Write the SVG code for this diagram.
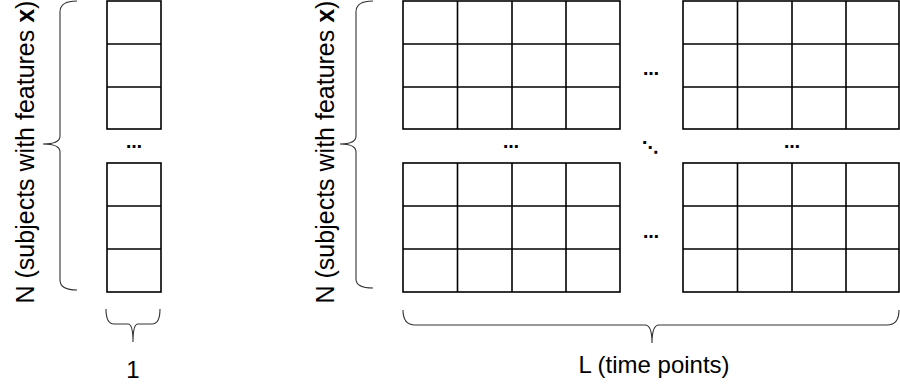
<svg xmlns="http://www.w3.org/2000/svg" width="900" height="391" viewBox="0 0 900 391">
<defs>
<style>
.grid{fill:none;stroke:#000;stroke-width:1.6}
.brace{fill:none;stroke:#333;stroke-width:1.1}
.lbl{font-family:"Liberation Sans",Arial,sans-serif;font-size:24px;fill:#000}
.vl{font-family:"Liberation Sans",Arial,sans-serif;font-size:25px;fill:#000}
.dots{font-family:"DejaVu Sans","Liberation Sans",sans-serif;font-size:16px;font-weight:bold;fill:#000;text-anchor:middle}
</style>
</defs>
<rect width="900" height="391" fill="#fff"/>
<g id="left-column">
<g id="col-top" class="grid">
<rect x="107" y="1" width="54" height="128"/>
<line x1="107" y1="44" x2="161" y2="44"/>
<line x1="107" y1="87" x2="161" y2="87"/>
</g>
<text class="dots" x="134" y="148">…</text>
<g id="col-bottom" class="grid">
<rect x="107" y="163" width="54" height="129"/>
<line x1="107" y1="206" x2="161" y2="206"/>
<line x1="107" y1="249" x2="161" y2="249"/>
</g>
</g>
<g id="matrix-tl" class="grid">
<rect x="403" y="1" width="217" height="128"/>
<line x1="403" y1="44" x2="620" y2="44"/>
<line x1="403" y1="87" x2="620" y2="87"/>
<line x1="457.5" y1="1" x2="457.5" y2="129"/>
<line x1="512" y1="1" x2="512" y2="129"/>
<line x1="566" y1="1" x2="566" y2="129"/>
</g>
<g id="matrix-tr" class="grid">
<rect x="683" y="1" width="216" height="128"/>
<line x1="683" y1="44" x2="899" y2="44"/>
<line x1="683" y1="87" x2="899" y2="87"/>
<line x1="737.5" y1="1" x2="737.5" y2="129"/>
<line x1="792" y1="1" x2="792" y2="129"/>
<line x1="846" y1="1" x2="846" y2="129"/>
</g>
<g id="matrix-bl" class="grid">
<rect x="403" y="163" width="217" height="129"/>
<line x1="403" y1="206" x2="620" y2="206"/>
<line x1="403" y1="249" x2="620" y2="249"/>
<line x1="457.5" y1="163" x2="457.5" y2="292"/>
<line x1="512" y1="163" x2="512" y2="292"/>
<line x1="566" y1="163" x2="566" y2="292"/>
</g>
<g id="matrix-br" class="grid">
<rect x="683" y="163" width="216" height="129"/>
<line x1="683" y1="206" x2="899" y2="206"/>
<line x1="683" y1="249" x2="899" y2="249"/>
<line x1="737.5" y1="163" x2="737.5" y2="292"/>
<line x1="792" y1="163" x2="792" y2="292"/>
<line x1="846" y1="163" x2="846" y2="292"/>
</g>
<g id="ellipses">
<text class="dots" x="651" y="75">…</text>
<text class="dots" x="511" y="148">…</text>
<text class="dots" x="792" y="148">…</text>
<text class="dots" x="651" y="238">…</text>
<text class="dots" x="650" y="153">⋱</text>
</g>
<g id="braces" class="brace">
<path d="M77,1 Q60,1 60,12 L60,136 Q60,144 43,144 Q60,144 60,152 L60,280 Q60,290 77,290"/>
<path d="M373,1 Q356,1 356,12 L356,136 Q356,144 340,144 Q356,144 356,152 L356,279 Q356,288 373,288"/>
<path d="M106,309 Q106,324 114,324 L128,324 Q133,324 133,342 Q133,324 138,324 L152,324 Q160,324 160,309"/>
<path d="M403,310 Q403,325 415,325 L645,325 Q652,325 652,343 Q652,325 659,325 L887,325 Q899,325 899,310"/>
</g>
<g id="labels">
<text class="vl" text-anchor="middle" transform="translate(34,152) rotate(-90)">N (subjects with features <tspan font-weight="bold">x</tspan>)</text>
<text class="vl" text-anchor="middle" transform="translate(334,152) rotate(-90)">N (subjects with features <tspan font-weight="bold">x</tspan>)</text>
<text class="lbl" text-anchor="middle" x="133" y="378">1</text>
<text class="lbl" text-anchor="middle" x="654" y="373">L (time points)</text>
</g>
</svg>
